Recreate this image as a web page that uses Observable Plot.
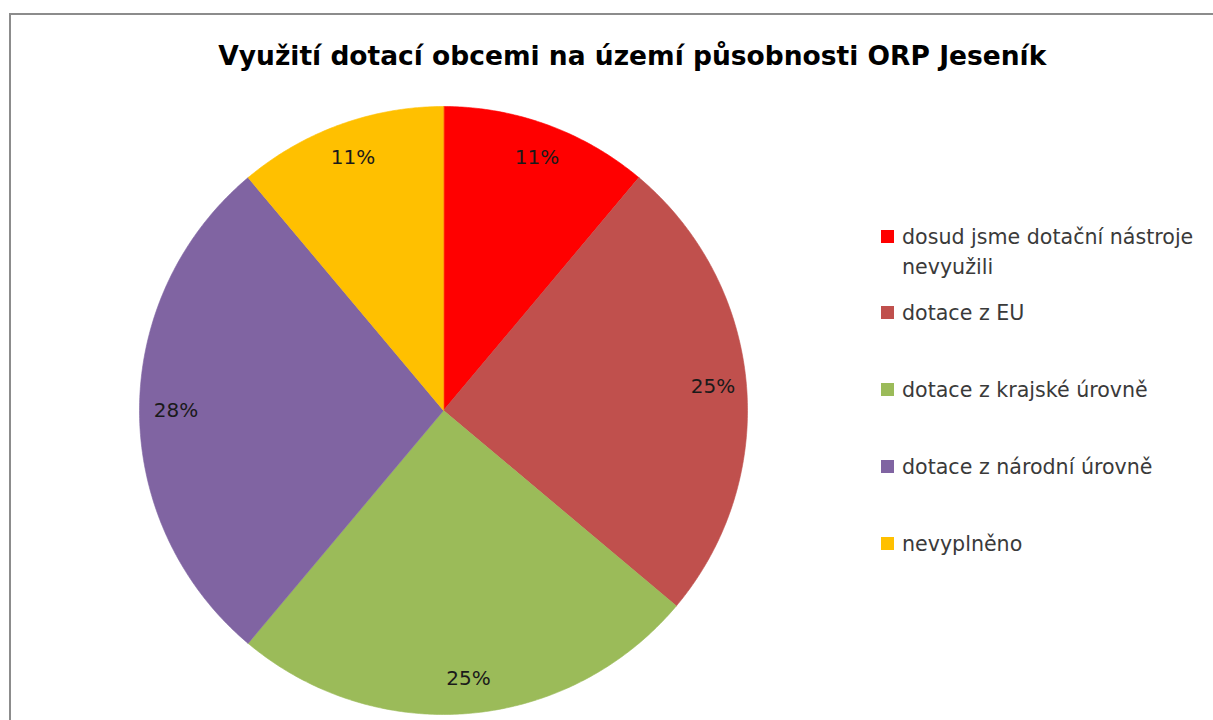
<!DOCTYPE html>
<html>
<head>
<meta charset="utf-8">
<script src="https://cdn.jsdelivr.net/npm/d3@7"></script>
<script src="https://cdn.jsdelivr.net/npm/@observablehq/plot@0.6"></script>
<style>
  html, body { margin: 0; padding: 0; background: #fff; }
  #wrap { position: relative; width: 1213px; height: 720px; overflow: hidden; font-family: "DejaVu Sans", sans-serif; }
  #frame { position: absolute; left: 9px; top: 13px; width: 1400px; height: 900px; border-left: 2px solid #8c8c8c; border-top: 2px solid #8c8c8c; }
  #title { position: absolute; left: 0; width: 1264px; top: 36px; text-align: center; font-weight: bold; font-size: 26px; color: #000; line-height: 40px; white-space: nowrap; }
  #title span { display: inline-block; transform-origin: center; }
  #chart { position: absolute; left: 0; top: 100px; }
  #legend { position: absolute; left: 881px; top: 0; }
  .item { position: absolute; left: 0; width: 330px; font-size: 20.6px; line-height: 30px; color: #3a3a3a; }
  .sw { position: absolute; left: 0; top: 8px; width: 13px; height: 13px; }
  .lab { position: absolute; left: 21px; width: 308px; }
</style>
</head>
<body>
<div id="wrap">
  <div id="frame"></div>
  <div id="title"><span></span></div>
  <div id="chart"></div>
  <div id="legend"></div>
</div>
<script>
const chartTitle = "Využití dotací obcemi na území působnosti ORP Jeseník";
const categories = [
  "dosud jsme dotační nástroje nevyužili",
  "dotace z EU",
  "dotace z krajské úrovně",
  "dotace z národní úrovně",
  "nevyplněno"
];
const counts = [4, 9, 9, 10, 4];
const colors = ["#FF0000", "#C0504D", "#9BBB59", "#8064A2", "#FFC000"];

const tspan = document.querySelector("#title span");
tspan.textContent = chartTitle;
// fit title width to the reference's
const tw = tspan.getBoundingClientRect().width;
if (tw > 0) tspan.style.transform = "scaleX(" + (828 / tw) + ")";

const total = d3.sum(counts);
const pie = d3.pie().sort(null).value(d => d.value);
const arcs = pie(categories.map((c, i) => ({key: c, value: counts[i]})));

// polygon points for each slice, angles clockwise from north
const polys = [];
for (const a of arcs) {
  const key = a.data.key;
  polys.push({key, x: 0, y: 0});
  const n = Math.max(2, Math.ceil((a.endAngle - a.startAngle) / (Math.PI / 360)));
  for (let k = 0; k <= n; k++) {
    const t = a.startAngle + (a.endAngle - a.startAngle) * k / n;
    polys.push({key, x: Math.sin(t), y: Math.cos(t)});
  }
}
const labels = arcs.map(a => {
  const m = (a.startAngle + a.endAngle) / 2;
  return {key: a.data.key, x: 0.885 * Math.sin(m), y: 0.885 * Math.cos(m),
          text: Math.round(a.data.value / total * 100) + "%"};
});

const W = 860, H = 620, R = 304, cx = 443, cy = 310;
const plot = Plot.plot({
  width: W, height: H,
  margin: 0,
  x: {domain: [-cx / R, (W - cx) / R], axis: null},
  y: {domain: [-(H - cy) / R, cy / R], axis: null},
  color: {domain: categories, range: colors},
  style: {fontFamily: "'DejaVu Sans', sans-serif", background: "transparent"},
  marks: [
    Plot.line(polys, {x: "x", y: "y", z: "key", fill: "key", stroke: "key", strokeWidth: 0.6, curve: "linear-closed"}),
    Plot.text(labels, {x: "x", y: "y", text: "text", fontSize: 20, fill: "#1a1a1a", dx: 1.5})
  ]
});
document.getElementById("chart").appendChild(plot);

const leg = document.getElementById("legend");
const top0 = 236.5, step = 76.9;
categories.forEach((c, i) => {
  const it = document.createElement("div");
  it.className = "item";
  it.style.top = (top0 + step * i - 15) + "px";
  const sw = document.createElement("div");
  sw.className = "sw";
  sw.style.background = colors[i];
  const lb = document.createElement("div");
  lb.className = "lab";
  lb.textContent = c;
  it.appendChild(sw); it.appendChild(lb);
  leg.appendChild(it);
});
</script>
</body>
</html>
